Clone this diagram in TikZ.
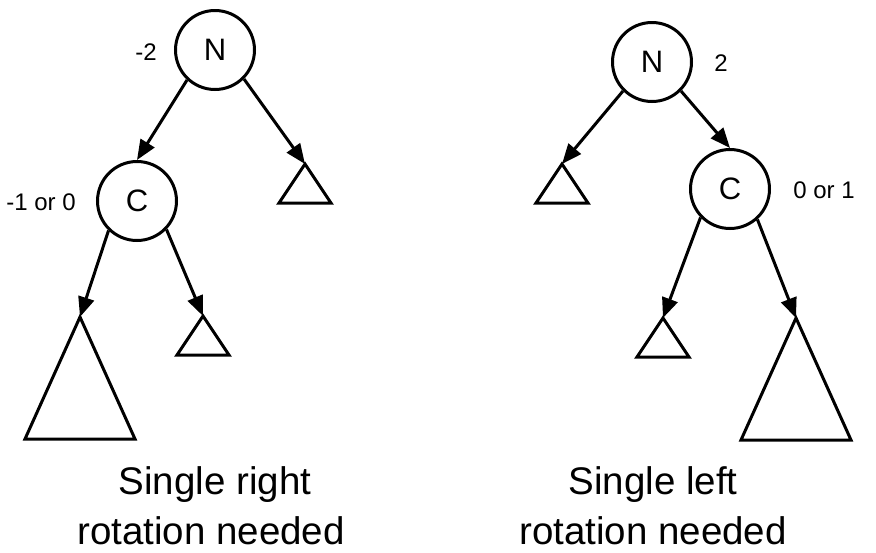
\documentclass[tikz,border=0pt]{standalone}
\usepackage{fontspec}
\setmainfont{Liberation Sans}
\usetikzlibrary{arrows.meta}
\tikzstyle{avl} = [
  x=1pt,
  y=-1pt,
  line width=3pt,
  >={Triangle[length=20pt,width=16pt]},
]
\tikzstyle{vertex} = [
  draw,
  circle,
  minimum size=79pt,
  inner sep=0pt,
  font=\fontsize{31}{31}\selectfont,
]
\tikzstyle{balance} = [font=\fontsize{24}{24}\selectfont]
\tikzstyle{rotnote} = [anchor=base, inner sep=0pt, font=\fontsize{38.5}{46}\selectfont]
\tikzstyle{link} = [->]

\begin{document}
\begin{tikzpicture}[avl]
      \useasboundingbox (0,0) rectangle (876,552);

      % Right rotation case
      \node[vertex] (N1) at (215,50) {N};
      \node[vertex] (C1) at (137,201) {C};
      \node[balance] (b1) at (146,52) {-2};
      \node[balance] (b2) at (41,202) {-1 or 0};
      \coordinate (T1) at (305,164);
      \coordinate (T2) at (80,317);
      \coordinate (T3) at (203,316);

      % Left rotation case
      \node[vertex] (N2) at (652,62) {N};
      \node[vertex] (C2) at (730,189) {C};
      \node[balance] (b3) at (721,63) {2};
      \node[balance] (b4) at (824,190) {0 or 1};
      \coordinate (T4) at (562,164);
      \coordinate (T5) at (663,318);
      \coordinate (T6) at (796,318);

      % Subtrees
      \foreach \t in {T1,T3,T4,T5}
        \draw (\t) -- ++(26,39) -- ++(-52,0) -- cycle;
      \foreach \t in {T2,T6}
        \draw (\t) -- ++(55,122) -- ++(-110,0) -- cycle;

      % Links
      \draw[link] (N1.-133) -- (C1.north);
      \draw[link] (N1.-45) -- (T1);
      \draw[link] (C1.-134) -- (T2);
      \draw[link] (C1.-44) -- (T3);
      \draw[link] (N2.-135) -- (T4);
      \draw[link] (N2.-45) -- (C2.north);
      \draw[link] (C2.-136) -- (T5);
      \draw[link] (C2.-48) -- (T6);

      % Captions
      \node[rotnote] (r1) at (215,494) {Single right};
      \node[rotnote] (r2) at (211,544) {rotation needed};
      \node[rotnote] (l1) at (653,494) {Single left};
      \node[rotnote] (l2) at (653,544) {rotation needed};
    \end{tikzpicture}
\end{document}
